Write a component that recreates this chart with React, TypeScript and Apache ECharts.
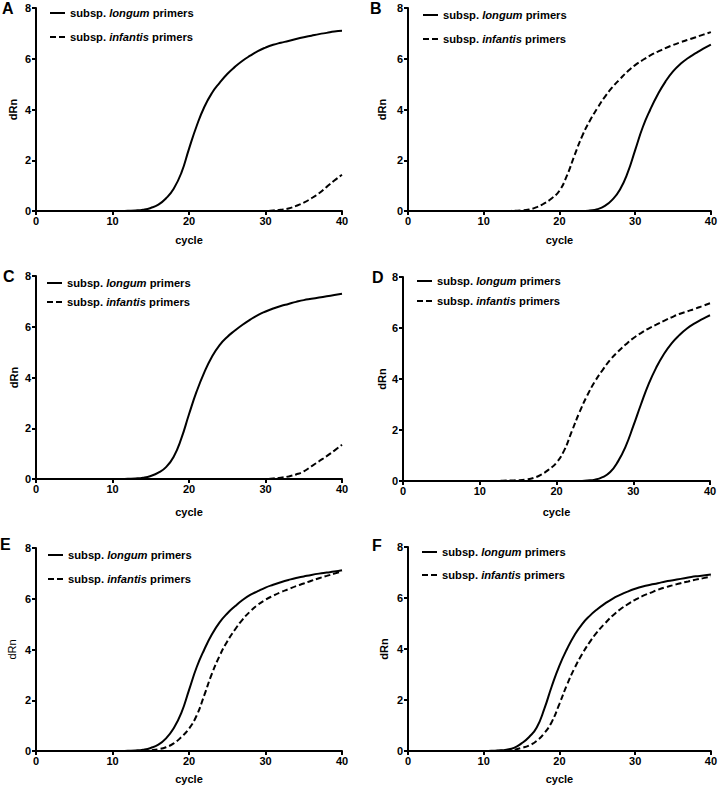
import React, { useEffect, useRef } from "react";
import * as echarts from "echarts";

const cycles = [1, 2, 3, 4, 5, 6, 7, 8, 9, 10, 11, 12, 13, 14, 15, 16, 17, 18, 19, 20, 21, 22, 23, 24, 25, 26, 27, 28, 29, 30, 31, 32, 33, 34, 35, 36, 37, 38, 39, 40];

const seriesNames = ["subsp. longum primers", "subsp. infantis primers"];
const panelLabels = ["A", "B", "C", "D", "E", "F"];
const xTicks = [0, 10, 20, 30, 40];
const yTicks = [0, 2, 4, 6, 8];

const aLongum = [0, 0, 0, 0, 0, 0, 0, 0, 0, 0, 0, 0.01, 0.02, 0.05, 0.12, 0.25, 0.5, 0.88, 1.5, 2.45, 3.35, 4.1, 4.65, 5.05, 5.4, 5.68, 5.92, 6.12, 6.3, 6.44, 6.55, 6.63, 6.7, 6.78, 6.85, 6.91, 6.97, 7.02, 7.07, 7.1];
const aInfantis = [0, 0, 0, 0, 0, 0, 0, 0, 0, 0, 0, 0, 0, 0, 0, 0, 0, 0, 0, 0, 0, 0, 0, 0, 0, 0, 0, 0, 0, 0, 0.02, 0.05, 0.1, 0.2, 0.33, 0.5, 0.7, 0.95, 1.2, 1.43];

const bLongum = [0, 0, 0, 0, 0, 0, 0, 0, 0, 0, 0, 0, 0, 0, 0, 0, 0, 0, 0, 0, 0, 0, 0, 0.02, 0.07, 0.2, 0.45, 0.85, 1.5, 2.4, 3.3, 4.0, 4.6, 5.1, 5.5, 5.8, 6.03, 6.22, 6.4, 6.56];
const bInfantis = [0, 0, 0, 0, 0, 0, 0, 0, 0, 0, 0, 0, 0, 0.01, 0.02, 0.06, 0.15, 0.3, 0.5, 0.8, 1.4, 2.2, 2.95, 3.55, 4.05, 4.5, 4.88, 5.2, 5.5, 5.75, 5.95, 6.13, 6.28, 6.42, 6.54, 6.65, 6.75, 6.85, 6.95, 7.05];

const cLongum = [0, 0, 0, 0, 0, 0, 0, 0, 0, 0, 0, 0.01, 0.02, 0.05, 0.12, 0.25, 0.47, 0.88, 1.6, 2.55, 3.45, 4.2, 4.82, 5.28, 5.6, 5.85, 6.08, 6.28, 6.46, 6.6, 6.72, 6.82, 6.9, 6.98, 7.05, 7.1, 7.15, 7.2, 7.25, 7.3];
const cInfantis = [0, 0, 0, 0, 0, 0, 0, 0, 0, 0, 0, 0, 0, 0, 0, 0, 0, 0, 0, 0, 0, 0, 0, 0, 0, 0, 0, 0, 0, 0, 0.02, 0.05, 0.1, 0.18, 0.3, 0.5, 0.7, 0.9, 1.12, 1.35];

const dLongum = [0, 0, 0, 0, 0, 0, 0, 0, 0, 0, 0, 0, 0, 0, 0, 0, 0, 0, 0, 0, 0, 0, 0, 0.02, 0.05, 0.15, 0.35, 0.76, 1.35, 2.15, 3.0, 3.8, 4.45, 4.98, 5.4, 5.72, 5.98, 6.18, 6.35, 6.5];
const dInfantis = [0, 0, 0, 0, 0, 0, 0, 0, 0, 0, 0, 0, 0.01, 0.02, 0.03, 0.06, 0.12, 0.25, 0.45, 0.72, 1.2, 1.95, 2.7, 3.35, 3.9, 4.35, 4.75, 5.07, 5.35, 5.6, 5.8, 5.98, 6.13, 6.28, 6.42, 6.55, 6.65, 6.75, 6.86, 6.97];

const eLongum = [0, 0, 0, 0, 0, 0, 0, 0, 0, 0, 0, 0.01, 0.02, 0.05, 0.12, 0.25, 0.5, 0.9, 1.5, 2.4, 3.3, 4.0, 4.6, 5.07, 5.42, 5.7, 5.95, 6.15, 6.3, 6.44, 6.55, 6.65, 6.74, 6.82, 6.88, 6.94, 6.99, 7.03, 7.07, 7.12];
const eInfantis = [0, 0, 0, 0, 0, 0, 0, 0, 0, 0, 0, 0, 0, 0.01, 0.03, 0.07, 0.15, 0.3, 0.55, 0.88, 1.4, 2.2, 3.05, 3.75, 4.32, 4.78, 5.18, 5.5, 5.76, 5.96, 6.12, 6.26, 6.38, 6.5, 6.6, 6.71, 6.81, 6.9, 6.99, 7.08];

const fLongum = [0, 0, 0, 0, 0, 0, 0, 0, 0, 0, 0.01, 0.02, 0.05, 0.12, 0.3, 0.55, 0.92, 1.65, 2.55, 3.35, 4.0, 4.55, 4.98, 5.3, 5.56, 5.78, 5.97, 6.12, 6.25, 6.36, 6.45, 6.52, 6.58, 6.65, 6.7, 6.75, 6.8, 6.85, 6.88, 6.92];
const fInfantis = [0, 0, 0, 0, 0, 0, 0, 0, 0, 0, 0, 0.01, 0.02, 0.05, 0.12, 0.22, 0.4, 0.7, 1.15, 1.85, 2.6, 3.25, 3.8, 4.27, 4.67, 5.0, 5.3, 5.55, 5.75, 5.93, 6.08, 6.2, 6.32, 6.42, 6.5, 6.58, 6.65, 6.72, 6.78, 6.84];

const panelData = [
  [aLongum, aInfantis],
  [bLongum, bInfantis],
  [cLongum, cInfantis],
  [dLongum, dInfantis],
  [eLongum, eInfantis],
  [fLongum, fInfantis],
];

// layout (pixels)
const layouts = [
  { left: 36, top: 8, width: 306, height: 203, xGap: 23, yGap: 18, yBold: true, lgLeft: 50, lgRows: [13, 37], lx: 2, ly: 8 },
  { left: 408, top: 8, width: 305, height: 203, xGap: 23, yGap: 21, yBold: true, lgLeft: 423, lgRows: [15, 39], lx: 370, ly: 8.5 },
  { left: 36, top: 276, width: 306, height: 203, xGap: 27, yGap: 17, yBold: true, lgLeft: 47, lgRows: [283, 302], lx: 3, ly: 276 },
  { left: 403, top: 277, width: 307, height: 204, xGap: 25, yGap: 14, yBold: true, lgLeft: 417, lgRows: [281, 301], lx: 372, ly: 277 },
  { left: 36, top: 548, width: 306, height: 203, xGap: 22, yGap: 19, yBold: false, lgLeft: 48, lgRows: [555, 579], lx: 0, ly: 544.5 },
  { left: 408, top: 547, width: 305, height: 204, xGap: 22, yGap: 19, yBold: true, lgLeft: 422, lgRows: [552, 575], lx: 372, ly: 545.5 },
];

const FONT = "'Liberation Sans', Arial, Helvetica, sans-serif";
const DASH = [6, 3];
const LEGEND_SIZE = 11.2;

function buildOption() {
  const grid = layouts.map((l) => ({ left: l.left, top: l.top, width: l.width, height: l.height, containLabel: false }));
  const axisLineStyle = { color: "#000", width: 2 };
  const xAxis = layouts.map((l, i) => ({
    type: "value",
    gridIndex: i,
    min: xTicks[0],
    max: xTicks[xTicks.length - 1],
    interval: xTicks[1] - xTicks[0],
    name: "cycle",
    nameLocation: "middle",
    nameGap: l.xGap,
    nameTextStyle: { color: "#000", fontFamily: FONT, fontSize: 11, fontWeight: "bold" },
    axisLine: { show: true, onZero: false, lineStyle: axisLineStyle },
    axisTick: { show: true, length: 4, lineStyle: axisLineStyle },
    axisLabel: { color: "#000", fontFamily: FONT, fontSize: 11, fontWeight: "bold", margin: 4 },
    splitLine: { show: false },
  }));
  const yAxis = layouts.map((l, i) => ({
    type: "value",
    gridIndex: i,
    min: yTicks[0],
    max: yTicks[yTicks.length - 1],
    interval: yTicks[1] - yTicks[0],
    name: "dRn",
    nameLocation: "middle",
    nameGap: l.yGap,
    nameTextStyle: { color: "#000", fontFamily: FONT, fontSize: 11, fontWeight: l.yBold ? "bold" : "normal" },
    axisLine: { show: true, onZero: false, lineStyle: axisLineStyle },
    axisTick: { show: true, length: 4, lineStyle: axisLineStyle },
    axisLabel: { color: "#000", fontFamily: FONT, fontSize: 11, fontWeight: "bold", margin: 5 },
    splitLine: { show: false },
  }));
  const series: any[] = [];
  panelData.forEach((pair, i) => {
    pair.forEach((vals, k) => {
      series.push({
        type: "line",
        name: seriesNames[k],
        xAxisIndex: i,
        yAxisIndex: i,
        data: cycles.map((c, j) => [c, vals[j]]),
        symbol: "none",
        smooth: 0.5,
        itemStyle: { color: "#000" },
        lineStyle: { color: "#000", width: 2, type: k === 0 ? "solid" : DASH },
        emphasis: { disabled: true },
      });
    });
  });

  const rich = {
    n: { fill: "#000", fontFamily: FONT, fontSize: LEGEND_SIZE, fontWeight: "bold" },
    i: { fill: "#000", fontFamily: FONT, fontSize: LEGEND_SIZE, fontWeight: "bold", fontStyle: "italic" },
  };
  const graphic: any[] = [];
  layouts.forEach((l, i) => {
    graphic.push({
      type: "text",
      x: l.lx,
      y: l.ly,
      silent: true,
      style: {
        text: panelLabels[i],
        fill: "#000",
        font: `bold 16px ${FONT}`,
        verticalAlign: "middle",
        align: "left",
      },
    });
    seriesNames.forEach((name, k) => {
      const cy = l.lgRows[k];
      graphic.push({
        type: "line",
        silent: true,
        shape: { x1: l.lgLeft, y1: cy, x2: l.lgLeft + 15, y2: cy },
        style: { stroke: "#000", lineWidth: 2, lineDash: k === 0 ? null : DASH },
      });
      const parts = name.split(" ");
      graphic.push({
        type: "text",
        silent: true,
        x: l.lgLeft + 20,
        y: cy,
        style: {
          text: `{n|${parts[0]} }{i|${parts[1]}}{n| ${parts[2]}}`,
          rich,
          fill: "#000",
          font: `bold ${LEGEND_SIZE}px ${FONT}`,
          verticalAlign: "middle",
          align: "left",
        },
      });
    });
  });

  return {
    animation: false,
    backgroundColor: "#fff",
    grid,
    xAxis,
    yAxis,
    graphic,
    series,
  };
}

export default function App() {
  const ref = useRef<HTMLDivElement>(null);
  useEffect(() => {
    if (!ref.current) return;
    const chart = echarts.init(ref.current, undefined, { renderer: "svg" });
    chart.setOption(buildOption() as any);
    return () => chart.dispose();
  }, []);
  return (
    <div
      ref={ref}
      style={{ position: "absolute", left: 0, top: 0, width: 720, height: 786, background: "#fff" }}
    />
  );
}
